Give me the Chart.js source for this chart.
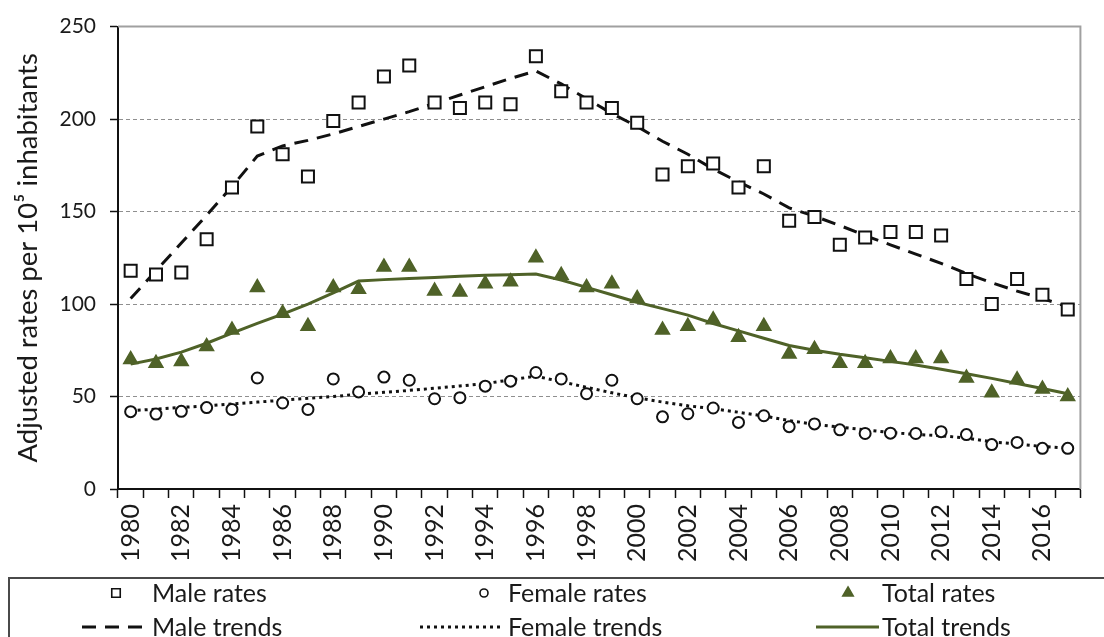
<!DOCTYPE html>
<html>
<head>
<meta charset="utf-8">
<script src="https://cdn.jsdelivr.net/npm/chart.js@4.4.1/dist/chart.umd.min.js"></script>
<style>
  html, body { margin: 0; padding: 0; background: #ffffff; }
  #wrap { position: relative; width: 1104px; height: 637px; }
</style>
</head>
<body>
<div id="wrap"><canvas id="chart"></canvas></div>
<script>
// Years on the horizontal axis
const years = [
  1980, 1981, 1982, 1983, 1984, 1985, 1986, 1987, 1988, 1989,
  1990, 1991, 1992, 1993, 1994, 1995, 1996, 1997, 1998, 1999,
  2000, 2001, 2002, 2003, 2004, 2005, 2006, 2007, 2008, 2009,
  2010, 2011, 2012, 2013, 2014, 2015, 2016, 2017
];

// Observed adjusted rates per 10^5 inhabitants
const maleRates = [
  118, 116, 117, 135, 163, 196, 181, 169, 199, 209,
  223, 229, 209, 206, 209, 208, 234, 215, 209, 206,
  198, 170, 174.5, 176, 163, 174.5, 145, 147, 132, 136,
  139, 139, 137, 113.5, 100, 113.5, 105, 97
];
const femaleRates = [
  41.8, 40.5, 42, 44, 43, 60, 46.5, 43, 59.5, 52.5,
  60.5, 58.8, 48.8, 49.4, 55.6, 58.3, 63, 59.5, 51.5, 58.8,
  48.8, 39, 40.7, 43.8, 36, 39.6, 33.7, 35.2, 32, 30,
  30.2, 30, 31, 29.4, 24, 25.2, 22, 22
];
const totalRates = [
  70, 68, 69, 77, 86, 109, 95, 88, 109, 108,
  120, 120, 107, 106.5, 111, 112, 125, 115.5, 109, 111,
  103, 86, 88, 91.5, 82, 88, 73, 75.5, 68, 68,
  70.5, 70.5, 70.5, 60, 52, 59, 54, 50
];

// Fitted trends
const maleTrend = [
  103, 118, 133, 148, 163.5, 180, 185.5, 188.5, 192, 196,
  200, 204, 208.5, 213, 217.5, 222, 226, 219, 211, 203,
  196, 188, 181, 173, 166, 159.5, 152, 147.5, 142.5, 137,
  132, 127, 122, 116.5, 111.5, 107, 103, 98.5
];
const femaleTrend = [
  42.3, 43.2, 44.1, 45, 46, 47, 48, 49, 50, 51.2,
  52.3, 53.3, 54.5, 55.7, 57, 59, 61, 58, 55, 52,
  49.3, 47, 45, 43.4, 41.5, 39.5, 37, 35, 33.5, 32,
  30.5, 29.5, 28.8, 27.5, 25.5, 24.3, 23, 22
];
const totalTrend = [
  67.5, 70.3, 74, 78.8, 84.3, 89.5, 94.5, 100, 106, 112.4,
  113.2, 113.8, 114.4, 115, 115.5, 115.8, 116.2, 113, 109, 105,
  101, 97.5, 94, 89.5, 85.5, 81.5, 77.6, 75, 72.8, 71,
  69, 67, 64.7, 62.3, 59.8, 57, 54.3, 51.5
];

const seriesNames = ['Male rates', 'Female rates', 'Total rates', 'Male trends', 'Female trends', 'Total trends'];
const axisTitle = 'Adjusted rates per 10\u2075 inhabitants';

const OLIVE = '#4f6228';
const INK = '#111111';
const TEXT = '#1a1a1a';
const FONT = 'Lato, "Open Sans", sans-serif';

// Legend slots: marker centre, line sample span and text start for each column
const legendCols = [
  { marker: 116, line: [82, 147], text: 152 },
  { marker: 484, line: [420, 503], text: 508 },
  { marker: 848, line: [816, 879], text: 882 }
];

// Boxed legend under the axis: markers in the first row, trend lines in the second
const boxLegend = {
  id: 'boxLegend',
  afterDraw(chart) {
    const ctx = chart.ctx;
    ctx.save();
    ctx.strokeStyle = '#4a4a4a';
    ctx.lineWidth = 2;
    ctx.strokeRect(9, 578, 1130, 90);

    const rowY = [593, 627];
    ctx.font = '25px ' + FONT;
    ctx.textBaseline = 'middle';
    ctx.textAlign = 'left';
    chart.data.datasets.forEach((ds, i) => {
      const slot = legendCols[i % 3], row = Math.floor(i / 3);
      const y = rowY[row];
      if (row === 0) {
        ctx.fillStyle = ds.pointBackgroundColor;
        ctx.strokeStyle = ds.pointBorderColor;
        ctx.lineWidth = 1.6;
        ctx.setLineDash([]);
        Chart.helpers.drawPoint(ctx, {
          pointStyle: ds.pointStyle, rotation: 0,
          radius: ds.legendRadius, borderWidth: 1.6
        }, slot.marker, y);
      } else {
        ctx.strokeStyle = ds.borderColor;
        ctx.lineWidth = ds.borderWidth;
        ctx.setLineDash(ds.borderDash || []);
        ctx.beginPath();
        ctx.moveTo(slot.line[0], y);
        ctx.lineTo(slot.line[1], y);
        ctx.stroke();
        ctx.setLineDash([]);
      }
      ctx.fillStyle = TEXT;
      ctx.fillText(ds.label, slot.text, y + 1);
    });
    ctx.restore();
  }
};

// Light grey frame along the top and right of the plot area
const plotFrame = {
  id: 'plotFrame',
  afterDatasetsDraw(chart) {
    const a = chart.chartArea, ctx = chart.ctx;
    ctx.save();
    ctx.strokeStyle = '#a0a0a0';
    ctx.lineWidth = 2;
    ctx.beginPath();
    ctx.moveTo(a.left, a.top);
    ctx.lineTo(a.right, a.top);
    ctx.lineTo(a.right, a.bottom);
    ctx.stroke();
    ctx.restore();
  }
};

const markerSet = (label, data, style, radius, legendRadius, fill, stroke) => ({
  label, data,
  showLine: false,
  pointStyle: style,
  pointRadius: radius,
  pointHoverRadius: radius,
  pointBorderWidth: 2,
  pointBackgroundColor: fill,
  pointBorderColor: stroke,
  borderColor: stroke,
  backgroundColor: fill,
  legendRadius,
  order: 0
});

const trendSet = (label, data, color, width, dash) => ({
  label, data,
  borderColor: color,
  backgroundColor: color,
  borderWidth: width,
  borderDash: dash,
  pointRadius: 0,
  pointHoverRadius: 0,
  tension: 0,
  fill: false,
  order: 1
});

const datasets = [
  markerSet(seriesNames[0], maleRates, 'rect', 8.5, 6, '#ffffff', INK),
  markerSet(seriesNames[1], femaleRates, 'circle', 5.5, 4, '#ffffff', INK),
  markerSet(seriesNames[2], totalRates, 'triangle', 7.5, 6, OLIVE, OLIVE),
  trendSet(seriesNames[3], maleTrend, INK, 3, [14, 9]),
  trendSet(seriesNames[4], femaleTrend, INK, 3, [3, 4]),
  trendSet(seriesNames[5], totalTrend, OLIVE, 3, [])
];

new Chart(document.getElementById('chart'), {
  type: 'line',
  data: { labels: years.map(String), datasets },
  plugins: [boxLegend, plotFrame],
  options: {
    responsive: true,
    maintainAspectRatio: false,
    animation: false,
    devicePixelRatio: 1,
    layout: { padding: { left: 0, right: 19, top: 22, bottom: 62 } },
    plugins: { legend: { display: false }, tooltip: { enabled: false } },
    scales: {
      x: {
        type: 'category',
        offset: true,
        afterFit(scale) { scale.height = 86; },
        grid: {
          offset: true,
          drawOnChartArea: false,
          drawTicks: true,
          tickLength: 9,
          tickColor: INK,
          tickWidth: 1.5
        },
        border: { display: true, color: INK, width: 2 },
        ticks: {
          autoSkip: false,
          maxRotation: 90,
          minRotation: 90,
          padding: 6,
          color: TEXT,
          font: { family: FONT, size: 25 },
          callback: (value, index) => (years[index] % 2 === 0 ? String(years[index]) : '')
        }
      },
      y: {
        min: 0,
        max: 250,
        afterFit(scale) { scale.width = 118; },
        ticks: {
          stepSize: 50,
          padding: 14,
          color: TEXT,
          font: { family: FONT, size: 21 }
        },
        grid: {
          color: (c) => (c.tick && (c.tick.value === 0 || c.tick.value === 250) ? 'rgba(0,0,0,0)' : '#8f8f8f'),
          lineWidth: 1,
          drawTicks: true,
          tickLength: 8,
          tickColor: INK,
          tickWidth: 1.5
        },
        border: { display: true, color: INK, width: 2, dash: [4, 3] },
        title: {
          display: true,
          text: axisTitle,
          color: TEXT,
          font: { family: FONT, size: 27.5 },
          padding: { top: 12, bottom: 0 }
        }
      }
    }
  }
});
</script>
</body>
</html>
